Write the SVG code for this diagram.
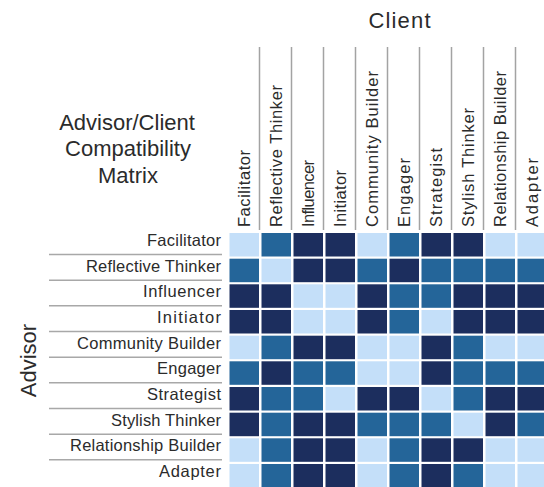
<svg xmlns="http://www.w3.org/2000/svg" width="544" height="487" viewBox="0 0 544 487">
<style>
text{font-family:"Liberation Sans",Arial,sans-serif;fill:#2b2b2b}
.t{font-size:22px;text-anchor:middle}
.c{font-size:16.5px}
.r{font-size:16.5px;text-anchor:end}
.L{fill:#c4dff9}
.M{fill:#246599}
.D{fill:#1c2e5e}
.vl{stroke:#a3a3a3;stroke-width:1.5}
.hl{stroke:#a8a8a8;stroke-width:1.6}
</style>
<rect width="544" height="487" fill="#ffffff"/>
<g id="title">
<text class="t" x="127" y="129.5">Advisor/Client</text>
<text class="t" x="128" y="156">Compatibility</text>
<text class="t" x="128" y="183">Matrix</text>
</g>
<g id="client-axis"><text class="t" x="399.5" y="28" textLength="62">Client</text></g>
<g id="advisor-axis"><text class="t" transform="translate(36,360.5) rotate(-90)">Advisor</text></g>
<g id="connectors">
<line class="vl" x1="259.5" y1="47" x2="259.5" y2="230"/>
<line class="vl" x1="291.5" y1="47" x2="291.5" y2="230"/>
<line class="vl" x1="323.5" y1="47" x2="323.5" y2="230"/>
<line class="vl" x1="355.5" y1="47" x2="355.5" y2="230"/>
<line class="vl" x1="387.5" y1="47" x2="387.5" y2="230"/>
<line class="vl" x1="419.5" y1="47" x2="419.5" y2="230"/>
<line class="vl" x1="451.5" y1="47" x2="451.5" y2="230"/>
<line class="vl" x1="483.5" y1="47" x2="483.5" y2="230"/>
<line class="vl" x1="515.5" y1="47" x2="515.5" y2="230"/>
<line class="hl" x1="49" y1="254.5" x2="222" y2="254.5"/>
<line class="hl" x1="49" y1="280.2" x2="222" y2="280.2"/>
<line class="hl" x1="49" y1="305.8" x2="222" y2="305.8"/>
<line class="hl" x1="49" y1="331.5" x2="222" y2="331.5"/>
<line class="hl" x1="49" y1="357.2" x2="222" y2="357.2"/>
<line class="hl" x1="49" y1="382.8" x2="222" y2="382.8"/>
<line class="hl" x1="49" y1="408.5" x2="222" y2="408.5"/>
<line class="hl" x1="49" y1="434.2" x2="222" y2="434.2"/>
<line class="hl" x1="49" y1="459.8" x2="222" y2="459.8"/>
</g>
<g id="column-labels">
<text class="c" transform="translate(250,227) rotate(-90)" textLength="77">Facilitator</text>
<text class="c" transform="translate(282,227) rotate(-90)" textLength="142">Reflective Thinker</text>
<text class="c" transform="translate(314,227) rotate(-90)" textLength="67">Influencer</text>
<text class="c" transform="translate(346,227) rotate(-90)" textLength="57">Initiator</text>
<text class="c" transform="translate(378,227) rotate(-90)" textLength="156">Community  Builder</text>
<text class="c" transform="translate(410,227) rotate(-90)" textLength="69">Engager</text>
<text class="c" transform="translate(442,227) rotate(-90)" textLength="79">Strategist</text>
<text class="c" transform="translate(474,227) rotate(-90)" textLength="119">Stylish Thinker</text>
<text class="c" transform="translate(506,227) rotate(-90)" textLength="156">Relationship Builder</text>
<text class="c" transform="translate(538,227) rotate(-90)" textLength="69">Adapter</text>
</g>
<g id="row-labels">
<text class="r" x="221" y="246" textLength="74">Facilitator</text>
<text class="r" x="221" y="271.7" textLength="135">Reflective Thinker</text>
<text class="r" x="221" y="297.3" textLength="78">Influencer</text>
<text class="r" x="221" y="323" textLength="64">Initiator</text>
<text class="r" x="221" y="348.7" textLength="144">Community  Builder</text>
<text class="r" x="221" y="374.3" textLength="64">Engager</text>
<text class="r" x="221" y="400" textLength="74">Strategist</text>
<text class="r" x="221" y="425.7" textLength="110">Stylish Thinker</text>
<text class="r" x="221" y="451.3" textLength="151">Relationship Builder</text>
<text class="r" x="221" y="477" textLength="62">Adapter</text>
</g>
<g id="matrix">
<g id="row-facilitator">
<rect class="L" x="229.5" y="233" width="29.5" height="23.5"/><rect class="M" x="261.5" y="233" width="29.5" height="23.5"/><rect class="D" x="293.5" y="233" width="29.5" height="23.5"/><rect class="D" x="325.5" y="233" width="29.5" height="23.5"/><rect class="L" x="357.5" y="233" width="29.5" height="23.5"/><rect class="M" x="389.5" y="233" width="29.5" height="23.5"/><rect class="D" x="421.5" y="233" width="29.5" height="23.5"/><rect class="D" x="453.5" y="233" width="29.5" height="23.5"/><rect class="L" x="485.5" y="233" width="29.5" height="23.5"/><rect class="L" x="517.5" y="233" width="29.5" height="23.5"/>
</g>
<g id="row-reflective-thinker">
<rect class="M" x="229.5" y="258.7" width="29.5" height="23.5"/><rect class="L" x="261.5" y="258.7" width="29.5" height="23.5"/><rect class="D" x="293.5" y="258.7" width="29.5" height="23.5"/><rect class="D" x="325.5" y="258.7" width="29.5" height="23.5"/><rect class="M" x="357.5" y="258.7" width="29.5" height="23.5"/><rect class="D" x="389.5" y="258.7" width="29.5" height="23.5"/><rect class="M" x="421.5" y="258.7" width="29.5" height="23.5"/><rect class="M" x="453.5" y="258.7" width="29.5" height="23.5"/><rect class="M" x="485.5" y="258.7" width="29.5" height="23.5"/><rect class="M" x="517.5" y="258.7" width="29.5" height="23.5"/>
</g>
<g id="row-influencer">
<rect class="D" x="229.5" y="284.3" width="29.5" height="23.5"/><rect class="D" x="261.5" y="284.3" width="29.5" height="23.5"/><rect class="L" x="293.5" y="284.3" width="29.5" height="23.5"/><rect class="L" x="325.5" y="284.3" width="29.5" height="23.5"/><rect class="D" x="357.5" y="284.3" width="29.5" height="23.5"/><rect class="M" x="389.5" y="284.3" width="29.5" height="23.5"/><rect class="M" x="421.5" y="284.3" width="29.5" height="23.5"/><rect class="D" x="453.5" y="284.3" width="29.5" height="23.5"/><rect class="D" x="485.5" y="284.3" width="29.5" height="23.5"/><rect class="D" x="517.5" y="284.3" width="29.5" height="23.5"/>
</g>
<g id="row-initiator">
<rect class="D" x="229.5" y="310" width="29.5" height="23.5"/><rect class="D" x="261.5" y="310" width="29.5" height="23.5"/><rect class="L" x="293.5" y="310" width="29.5" height="23.5"/><rect class="L" x="325.5" y="310" width="29.5" height="23.5"/><rect class="D" x="357.5" y="310" width="29.5" height="23.5"/><rect class="M" x="389.5" y="310" width="29.5" height="23.5"/><rect class="L" x="421.5" y="310" width="29.5" height="23.5"/><rect class="D" x="453.5" y="310" width="29.5" height="23.5"/><rect class="D" x="485.5" y="310" width="29.5" height="23.5"/><rect class="D" x="517.5" y="310" width="29.5" height="23.5"/>
</g>
<g id="row-community-builder">
<rect class="L" x="229.5" y="335.7" width="29.5" height="23.5"/><rect class="M" x="261.5" y="335.7" width="29.5" height="23.5"/><rect class="D" x="293.5" y="335.7" width="29.5" height="23.5"/><rect class="D" x="325.5" y="335.7" width="29.5" height="23.5"/><rect class="L" x="357.5" y="335.7" width="29.5" height="23.5"/><rect class="L" x="389.5" y="335.7" width="29.5" height="23.5"/><rect class="D" x="421.5" y="335.7" width="29.5" height="23.5"/><rect class="M" x="453.5" y="335.7" width="29.5" height="23.5"/><rect class="L" x="485.5" y="335.7" width="29.5" height="23.5"/><rect class="L" x="517.5" y="335.7" width="29.5" height="23.5"/>
</g>
<g id="row-engager">
<rect class="M" x="229.5" y="361.3" width="29.5" height="23.5"/><rect class="D" x="261.5" y="361.3" width="29.5" height="23.5"/><rect class="M" x="293.5" y="361.3" width="29.5" height="23.5"/><rect class="M" x="325.5" y="361.3" width="29.5" height="23.5"/><rect class="L" x="357.5" y="361.3" width="29.5" height="23.5"/><rect class="L" x="389.5" y="361.3" width="29.5" height="23.5"/><rect class="D" x="421.5" y="361.3" width="29.5" height="23.5"/><rect class="M" x="453.5" y="361.3" width="29.5" height="23.5"/><rect class="M" x="485.5" y="361.3" width="29.5" height="23.5"/><rect class="M" x="517.5" y="361.3" width="29.5" height="23.5"/>
</g>
<g id="row-strategist">
<rect class="D" x="229.5" y="387" width="29.5" height="23.5"/><rect class="M" x="261.5" y="387" width="29.5" height="23.5"/><rect class="M" x="293.5" y="387" width="29.5" height="23.5"/><rect class="L" x="325.5" y="387" width="29.5" height="23.5"/><rect class="D" x="357.5" y="387" width="29.5" height="23.5"/><rect class="D" x="389.5" y="387" width="29.5" height="23.5"/><rect class="L" x="421.5" y="387" width="29.5" height="23.5"/><rect class="M" x="453.5" y="387" width="29.5" height="23.5"/><rect class="D" x="485.5" y="387" width="29.5" height="23.5"/><rect class="D" x="517.5" y="387" width="29.5" height="23.5"/>
</g>
<g id="row-stylish-thinker">
<rect class="D" x="229.5" y="412.7" width="29.5" height="23.5"/><rect class="M" x="261.5" y="412.7" width="29.5" height="23.5"/><rect class="D" x="293.5" y="412.7" width="29.5" height="23.5"/><rect class="D" x="325.5" y="412.7" width="29.5" height="23.5"/><rect class="M" x="357.5" y="412.7" width="29.5" height="23.5"/><rect class="M" x="389.5" y="412.7" width="29.5" height="23.5"/><rect class="M" x="421.5" y="412.7" width="29.5" height="23.5"/><rect class="L" x="453.5" y="412.7" width="29.5" height="23.5"/><rect class="D" x="485.5" y="412.7" width="29.5" height="23.5"/><rect class="M" x="517.5" y="412.7" width="29.5" height="23.5"/>
</g>
<g id="row-relationship-builder">
<rect class="L" x="229.5" y="438.3" width="29.5" height="23.5"/><rect class="M" x="261.5" y="438.3" width="29.5" height="23.5"/><rect class="D" x="293.5" y="438.3" width="29.5" height="23.5"/><rect class="D" x="325.5" y="438.3" width="29.5" height="23.5"/><rect class="L" x="357.5" y="438.3" width="29.5" height="23.5"/><rect class="M" x="389.5" y="438.3" width="29.5" height="23.5"/><rect class="D" x="421.5" y="438.3" width="29.5" height="23.5"/><rect class="D" x="453.5" y="438.3" width="29.5" height="23.5"/><rect class="L" x="485.5" y="438.3" width="29.5" height="23.5"/><rect class="L" x="517.5" y="438.3" width="29.5" height="23.5"/>
</g>
<g id="row-adapter">
<rect class="L" x="229.5" y="464" width="29.5" height="23.5"/><rect class="M" x="261.5" y="464" width="29.5" height="23.5"/><rect class="D" x="293.5" y="464" width="29.5" height="23.5"/><rect class="D" x="325.5" y="464" width="29.5" height="23.5"/><rect class="L" x="357.5" y="464" width="29.5" height="23.5"/><rect class="M" x="389.5" y="464" width="29.5" height="23.5"/><rect class="D" x="421.5" y="464" width="29.5" height="23.5"/><rect class="M" x="453.5" y="464" width="29.5" height="23.5"/><rect class="L" x="485.5" y="464" width="29.5" height="23.5"/><rect class="L" x="517.5" y="464" width="29.5" height="23.5"/>
</g>
</g>
</svg>
